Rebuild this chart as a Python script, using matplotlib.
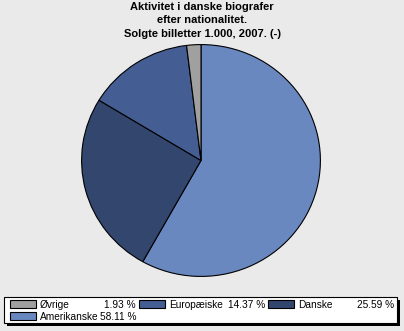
import matplotlib
matplotlib.use('Agg')
import matplotlib.pyplot as plt
from matplotlib.patches import Rectangle

plt.rcParams['font.family'] = ['Liberation Sans', 'DejaVu Sans']

# slices drawn clockwise from 12 o'clock
labels = ['Amerikanske', 'Danske', 'Europæiske', 'Øvrige']
shares = [58.11, 25.59, 14.37, 1.93]
colors = ['#6A88C0', '#33466E', '#445D92', '#A0A0A0']

# legend order
legend_order = ['Øvrige', 'Europæiske', 'Danske', 'Amerikanske']

title = 'Aktivitet i danske biografer\nefter nationalitet.\nSolgte billetter 1.000, 2007. (-)'

W, H = 404, 331
bg = '#EAEAEA'
fig = plt.figure(figsize=(W / 100, H / 100), dpi=100, facecolor=bg)

ax = fig.add_axes([81 / W, (H - 277) / H, 240 / W, 233 / H])
ax.set_facecolor(bg)
ax.pie(shares, colors=colors, startangle=90, counterclock=False,
       wedgeprops=dict(edgecolor='black', linewidth=0.8))
ax.set_aspect('auto')
ax.set_xlim(-1.005, 1.005)
ax.set_ylim(-1.005, 1.005)
ax.axis('off')

fig.text(0.5, 1 - 2 / H, title, ha='center', va='top', fontsize=8,
         fontweight='bold', linespacing=1.42)

# legend frame with drop shadow
def px(x, y, w, h):
    return (x / W, 1 - (y + h) / H, w / W, h / H)

x0, y0, w0, h0 = px(7, 300, 393, 26)
fig.add_artist(Rectangle((x0, y0), w0, h0, transform=fig.transFigure,
                         facecolor='black', edgecolor='none'))
x0, y0, w0, h0 = px(4, 297, 393, 26)
fig.add_artist(Rectangle((x0, y0), w0, h0, transform=fig.transFigure,
                         facecolor='white', edgecolor='black', linewidth=0.8))

cols = [10, 139, 268]
col_w = 126
for i, name in enumerate(legend_order):
    val = shares[labels.index(name)]
    c = colors[labels.index(name)]
    cx = cols[i % 3]
    cy = 300 + 12 * (i // 3)
    rx, ry, rw, rh = px(cx, cy, 26, 8)
    fig.add_artist(Rectangle((rx, ry), rw, rh, transform=fig.transFigure,
                             facecolor=c, edgecolor='black', linewidth=0.8))
    ty = 1 - (cy + 4.5) / H
    fig.text((cx + 30) / W, ty, name, ha='left', va='center', fontsize=7.3)
    fig.text((cx + col_w) / W, ty, f'{val:.2f} %', ha='right', va='center',
             fontsize=7.3)

fig.savefig('out.png', dpi=100, facecolor=bg)
